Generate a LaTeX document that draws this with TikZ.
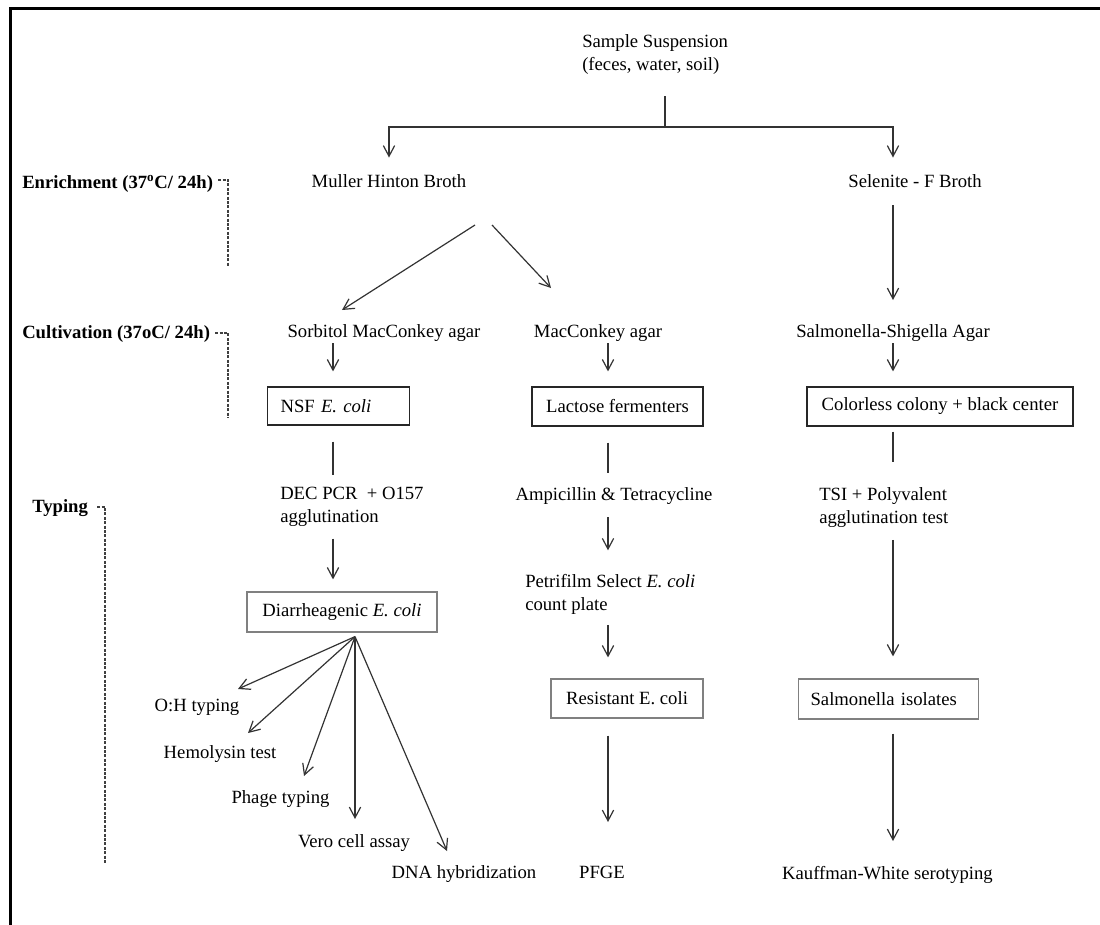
\documentclass[tikz,border=0pt]{standalone}
\usepackage{fontspec}
\setmainfont{Liberation Serif}
\usetikzlibrary{arrows.meta,calc}
\begin{document}
\begin{tikzpicture}[x=0.75pt,y=-0.75pt,
  every node/.style={font=\fontsize{14}{17.25}\selectfont, inner sep=0pt},
  lab/.style={font=\fontsize{14}{17.25}\selectfont\bfseries},
  ln/.style={draw=black!80, line width=0.9pt},
  arr/.style={ln, -{Straight Barb[length=8pt,width=8.5pt]}},
  brk/.style={draw=black!75, line width=0.9pt, dash pattern=on 2.2pt off 1.1pt},
  bx/.style={draw=black!85, line width=0.9pt, align=center},
  gbx/.style={draw=black!50, line width=0.9pt, align=center}]
\useasboundingbox (0,0) rectangle (1100,925);
% frame (top and left edges)
\draw[line width=2.25pt] (1100,8) -- (10,8) -- (10,925);

% lanes and helper coordinates
\coordinate (split) at (665,127);
\coordinate (L1) at (333,0);
\coordinate (L2) at (608,0);
\coordinate (L3) at (893,0);
\coordinate (e1) at (228,267);
\coordinate (c1) at (228,418);
\coordinate (t1) at (105,863);

% stage labels
\node[lab, anchor=base west] (enrich) at (22,188) {Enrichment (37\textsuperscript{o}C/ 24h)};
\node[lab, anchor=base west] (cultiv) at (22,338) {Cultivation (37oC/ 24h)};
\node[lab, anchor=base west] (typing) at (32,512) {Typing};

% top
\node[anchor=north west, align=left] (samp) at (582,34.3) {Sample Suspension\\(feces, water, soil)};
\node[anchor=base] (muller) at (389,187) {Muller Hinton Broth};
\node[anchor=base] (selenite) at (915,187) {Selenite - F Broth};

% cultivation
\node[anchor=base] (sorbitol) at (384,337) {Sorbitol MacConkey agar};
\node[anchor=base] (macconkey) at (598,337) {MacConkey agar};
\node[anchor=base] (ss) at (893,337) {Salmonella-Shigella Agar};

% boxes row 1
\node[bx, anchor=west, text width=87pt, align=left, inner xsep=9.75pt, minimum height=28.5pt] (nsf) at (267,406) {NSF \textit{E. coli}};
\node[bx, minimum width=128.25pt, minimum height=29.25pt] (lactose) at (617.5,406.5) {Lactose fermenters};
\node[bx, minimum width=199.5pt, minimum height=29.25pt] (colorless) at (940,406.5) {Colorless colony + black center};

% typing column texts
\node[anchor=north west, align=left] (dec) at (280,486.6) {DEC PCR~ + O157\\agglutination};
\node[anchor=base] (ampi) at (614,500) {Ampicillin \& Tetracycline};
\node[anchor=north west, align=left] (petri) at (525,574.3) {Petrifilm Select \textit{E. coli}\\count plate};
\node[anchor=north west, align=left] (tsi) at (819,487.3) {TSI + Polyvalent\\agglutination test};

% boxes row 2
\node[gbx, minimum width=142.5pt, minimum height=30pt] (diarr) at (342,612) {Diarrheagenic \textit{E. coli}};
\node[gbx, minimum width=114pt, minimum height=29.25pt] (resist) at (627,698.5) {Resistant E. coli};
\node[gbx, anchor=west, text width=117pt, align=left, inner xsep=9pt, minimum height=30pt] (salm) at (798,699) {Salmonella isolates};

% final outputs
\node[anchor=base] (oh) at (197,711) {O:H typing};
\node[anchor=base] (hemo) at (220,758) {Hemolysin test};
\node[anchor=base] (phage) at (280.5,803) {Phage typing};
\node[anchor=base] (vero) at (354,847) {Vero cell assay};
\node[anchor=base] (dna) at (464,878) {DNA hybridization};
\node[anchor=base] (pfge) at (602,878) {PFGE};
\node[anchor=base] (kw) at (887.5,879) {Kauffman-White serotyping};

% brackets
\draw[brk] ($(enrich.base east)+(5,-8)$) -| (e1);
\draw[brk] ($(cultiv.base east)+(5,-5)$) -| (c1);
\draw[brk] ($(typing.base east)+(9,-5)$) -| (t1);

% connectors
\draw[ln, shorten <=16.2pt] (samp.south -| split) -- (split);
\draw[arr, shorten >=12.2pt] (split) -| (muller.north);
\draw[arr, shorten >=12.2pt] (split) -| (selenite.north -| L3);

\draw[arr] ($(muller.base)+(86,38)$) -- ($(sorbitol.base)+(-42,-27)$);
\draw[arr] ($(muller.base)+(103,38)$) -- ($(macconkey.base)+(-47,-49)$);
\draw[arr] ($(selenite.base -| L3)+(0,18)$) -- ($(ss.base -| L3)+(0,-37)$);

\draw[arr] ($(sorbitol.base -| L1)+(0,6)$) -- ($(nsf.north -| L1)+(0,-15)$);
\draw[arr] ($(macconkey.base -| L2)+(0,6)$) -- ($(lactose.north -| L2)+(0,-15)$);
\draw[arr] ($(ss.base -| L3)+(0,6)$) -- ($(colorless.north -| L3)+(0,-15)$);

\draw[ln] ($(nsf.south -| L1)+(0,16)$) -- ($(dec.north -| L1)+(0,-12)$);
\draw[arr] ($(dec.south -| L1)+(0,12)$) -- ($(diarr.north -| L1)+(0,-12)$);

\draw[ln] ($(lactose.south -| L2)+(0,16)$) -- ($(ampi.base -| L2)+(0,-27)$);
\draw[arr] ($(ampi.base -| L2)+(0,17)$) -- ($(petri.north -| L2)+(0,-24)$);
\draw[arr] ($(petri.south -| L2)+(0,10)$) -- ($(resist.north -| L2)+(0,-21)$);
\draw[arr] ($(resist.south -| L2)+(0,17)$) -- ($(pfge.base -| L2)+(0,-56)$);

\draw[ln] ($(colorless.south -| L3)+(0,5)$) -- ($(tsi.north -| L3)+(0,-25)$);
\draw[arr] ($(tsi.south -| L3)+(0,12)$) -- ($(salm.north -| L3)+(0,-22)$);
\draw[arr] ($(salm.south -| L3)+(0,14)$) -- ($(kw.base -| L3)+(0,-38)$);

% fan from Diarrheagenic E. coli
\coordinate (fan) at ($(diarr.south)+(13,4)$);
\draw[arr] (fan) -- ($(oh.base)+(41,-22)$);
\draw[arr] (fan) -- ($(hemo.base)+(28,-25)$);
\draw[arr] (fan) -- ($(phage.base)+(23.5,-27)$);
\draw[arr] (fan) -- ($(vero.base)+(1,-28)$);
\draw[arr] (fan) -- ($(dna.base)+(-17,-27)$);
\end{tikzpicture}
\end{document}
